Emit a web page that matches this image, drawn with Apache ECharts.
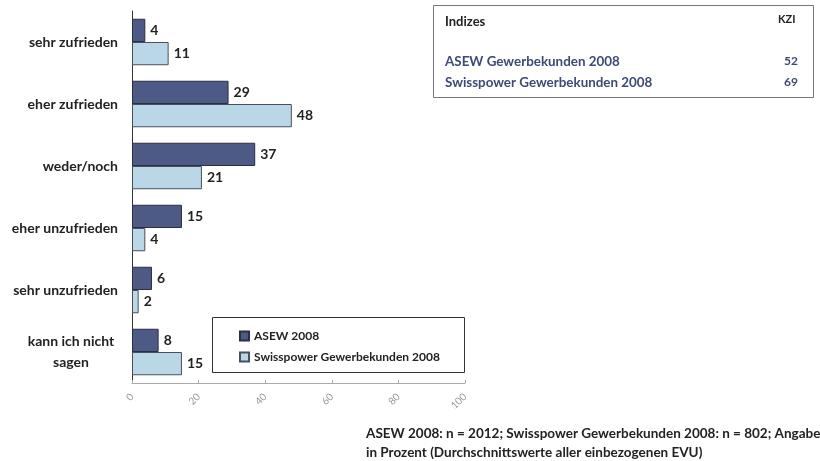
<!DOCTYPE html>
<html>
<head>
<meta charset="utf-8">
<script src="https://cdn.jsdelivr.net/npm/echarts@6/dist/echarts.min.js"></script>
<style>
  html, body { margin: 0; padding: 0; background: #fff; }
  #chart { width: 820px; height: 461px; }
</style>
</head>
<body>
<div id="chart"></div>
<script>
var categories = ['sehr zufrieden', 'eher zufrieden', 'weder/noch', 'eher unzufrieden', 'sehr unzufrieden', 'kann ich nicht\nsagen'];
var asew = [4, 29, 37, 15, 6, 8];
var swisspower = [11, 48, 21, 4, 2, 15];
var xTicks = [0, 20, 40, 60, 80, 100];
var indexRows = ['ASEW Gewerbekunden 2008', 'Swisspower Gewerbekunden 2008'];
var indexValues = [52, 69];

var font = 'Lato, "Open Sans", sans-serif';
var myChart = echarts.init(document.getElementById('chart'));

// kleine Tabelle oben rechts
var tableItems = [
    { type: 'rect', shape: { x: 433.5, y: 5.5, width: 380, height: 92 },
      style: { fill: '#fff', stroke: '#777', lineWidth: 1 } },
    { type: 'text', x: 445, y: 15, style: { text: 'Indizes', font: 'bold 13px ' + font, fill: '#222' } },
    { type: 'text', x: 778, y: 14, style: { text: 'KZI', font: 'bold 11px ' + font, fill: '#222' } }
];
indexRows.forEach(function (name, i) {
    tableItems.push({ type: 'text', x: 445, y: 55 + i * 21,
        style: { text: name, font: 'bold 13.4px ' + font, fill: '#3d4a78' } });
    tableItems.push({ type: 'text', x: 784, y: 55 + i * 21,
        style: { text: String(indexValues[i]), font: 'bold 12px ' + font, fill: '#3d4a78' } });
});

var option = {
    animation: false,
    textStyle: { fontFamily: font },
    grid: { left: 132, top: 11, width: 333, height: 372, containLabel: false },
    legend: {
        left: 234, top: 325, orient: 'vertical', itemGap: 9,
        itemWidth: 9, itemHeight: 9, icon: 'rect',
        textStyle: { fontSize: 12, fontWeight: 'bold', color: '#222', fontFamily: font },
        data: ['ASEW 2008', 'Swisspower Gewerbekunden 2008']
    },
    xAxis: {
        type: 'value', min: xTicks[0], max: xTicks[xTicks.length - 1], interval: 20,
        axisLine: { show: true, lineStyle: { color: '#aaa', width: 1 } },
        axisTick: { show: true, inside: true, length: 3, lineStyle: { color: '#aaa' } },
        splitLine: { show: false },
        axisLabel: { rotate: 45, fontSize: 10, color: '#999', margin: 12 }
    },
    yAxis: {
        type: 'category', inverse: true, data: categories,
        axisLine: { lineStyle: { color: '#333' } },
        axisTick: { length: 4, lineStyle: { color: '#333' } },
        axisLabel: {
            margin: 14, color: '#222', fontSize: 14, fontWeight: 'bold', lineHeight: 20,
            formatter: function (v) {
                if (v.indexOf('\n') < 0) return v;
                return v.split('\n').map(function (s) { return '{c|' + s + '}'; }).join('\n');
            },
            rich: { c: { width: 94, align: 'center', fontSize: 14, fontWeight: 'bold', color: '#222', lineHeight: 21 } }
        }
    },
    series: [
        {
            name: 'ASEW 2008', type: 'bar', data: asew,
            barGap: '0%', barCategoryGap: '25%',
            itemStyle: { color: '#4e5a86', borderColor: '#2a2f48', borderWidth: 1 },
            label: { show: true, position: 'right', distance: 5, fontSize: 14, fontWeight: 'bold', color: '#222' }
        },
        {
            name: 'Swisspower Gewerbekunden 2008', type: 'bar', data: swisspower,
            itemStyle: { color: '#b9d7e7', borderColor: '#4a4f60', borderWidth: 1 },
            label: { show: true, position: 'right', distance: 5, fontSize: 14, fontWeight: 'bold', color: '#222' }
        }
    ],
    graphic: tableItems.concat([
        { type: 'rect', z: -1, shape: { x: 212.5, y: 317.5, width: 252, height: 55 },
          style: { fill: '#fff', stroke: '#333', lineWidth: 1 } },
        { type: 'text', x: 366, y: 424, style: {
            text: 'ASEW 2008: n = 2012; Swisspower Gewerbekunden 2008: n = 802; Angaben\nin Prozent (Durchschnittswerte aller einbezogenen EVU)',
            font: 'bold 13.5px ' + font, fill: '#222', lineHeight: 19 } }
    ])
};

myChart.setOption(option);
window.addEventListener('resize', function () {
    myChart.resize();
});
</script>
</body>
</html>
